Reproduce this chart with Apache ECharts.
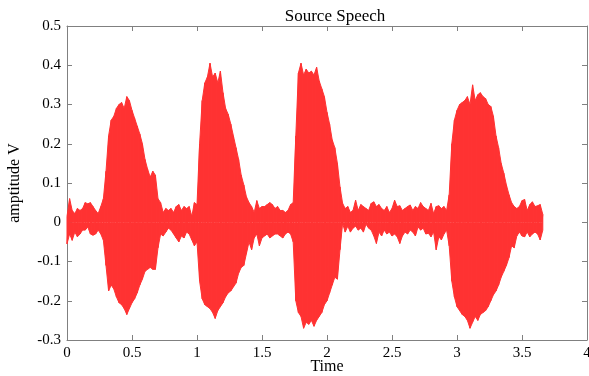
<!DOCTYPE html>
<html>
<head>
<meta charset="utf-8">
<script src="https://cdn.jsdelivr.net/npm/echarts@6/dist/echarts.min.js"></script>
<style>
html,body{margin:0;padding:0;background:#fff;}
#chart{width:589px;height:376px;}
</style>
</head>
<body>
<div id="chart"></div>
<script>
// Time base of the envelope samples (seconds)
var timeStart = 0;
var timeStep = 0.02;

// Upper envelope of the speech waveform (V), one value per sample step
var upperEnvelope = [
  // noise 0.00-0.28
  0.015, 0.06, 0.03, 0.022, 0.035, 0.03, 0.035, 0.05, 0.047, 0.05, 0.04, 0.03, 0.022, 0.04, 0.06,
  // word 1 0.30-0.70
  0.13, 0.22, 0.26, 0.27, 0.29, 0.30, 0.305, 0.29, 0.32, 0.31, 0.285, 0.265, 0.245, 0.225, 0.2, 0.16, 0.135, 0.115, 0.13, 0.12, 0.06,
  // noise 0.72-1.00
  0.05, 0.025, 0.035, 0.03, 0.035, 0.025, 0.04, 0.045, 0.03, 0.04, 0.035, 0.04, 0.015, 0.05, 0.045,
  // word 2 1.02-1.40
  0.2, 0.31, 0.355, 0.37, 0.405, 0.37, 0.38, 0.355, 0.385, 0.33, 0.29, 0.275, 0.25, 0.22, 0.19, 0.16, 0.12, 0.095, 0.065, 0.05,
  // noise 1.42-1.72
  0.04, 0.025, 0.055, 0.035, 0.04, 0.04, 0.045, 0.05, 0.045, 0.035, 0.04, 0.03, 0.03, 0.025, 0.03, 0.045,
  // word 3 1.74-2.10
  0.05, 0.22, 0.38, 0.405, 0.375, 0.39, 0.38, 0.385, 0.375, 0.395, 0.36, 0.34, 0.32, 0.28, 0.25, 0.21, 0.19, 0.15, 0.09,
  // noise 2.12-2.92
  0.048, 0.035, 0.04, 0.025, 0.03, 0.056, 0.03, 0.045, 0.04, 0.035, 0.03, 0.048, 0.052, 0.04, 0.045, 0.035, 0.03, 0.04, 0.025, 0.035,
  0.056, 0.04, 0.042, 0.03, 0.035, 0.04, 0.044, 0.03, 0.04, 0.035, 0.05, 0.04, 0.035, 0.03, 0.048, 0.022, 0.04, 0.042, 0.035, 0.04, 0.03,
  // word 4 2.94-3.42
  0.07, 0.2, 0.26, 0.285, 0.3, 0.305, 0.31, 0.32, 0.3, 0.35, 0.31, 0.325, 0.33, 0.32, 0.315, 0.3, 0.295, 0.27, 0.22, 0.19, 0.15, 0.125, 0.095, 0.07, 0.05,
  // noise 3.44-3.66
  0.04, 0.035, 0.04, 0.055, 0.058, 0.03, 0.045, 0.052, 0.04, 0.042, 0.045, 0.02
];

// Lower envelope of the speech waveform (V), same sample steps
var lowerEnvelope = [
  // noise 0.00-0.28
  -0.055, -0.03, -0.046, -0.025, -0.037, -0.03, -0.02, -0.02, -0.012, -0.03, -0.033, -0.03, -0.02, -0.03, -0.046,
  // word 1 0.30-0.70
  -0.11, -0.175, -0.16, -0.17, -0.19, -0.205, -0.21, -0.22, -0.235, -0.22, -0.205, -0.195, -0.18, -0.16, -0.145, -0.125, -0.12, -0.115, -0.12, -0.12, -0.065,
  // noise 0.72-1.00
  -0.03, -0.035, -0.025, -0.015, -0.02, -0.03, -0.04, -0.05, -0.035, -0.04, -0.025, -0.03, -0.045, -0.06, -0.05,
  // word 2 1.02-1.40
  -0.15, -0.195, -0.21, -0.215, -0.22, -0.23, -0.245, -0.225, -0.215, -0.205, -0.19, -0.18, -0.175, -0.165, -0.155, -0.13, -0.115, -0.11, -0.08, -0.05,
  // noise 1.42-1.72
  -0.07, -0.04, -0.03, -0.06, -0.04, -0.035, -0.03, -0.04, -0.035, -0.03, -0.03, -0.035, -0.04, -0.03, -0.025, -0.03,
  // word 3 1.74-2.10
  -0.05, -0.2, -0.23, -0.24, -0.27, -0.255, -0.26, -0.25, -0.265, -0.25, -0.24, -0.23, -0.21, -0.2, -0.18, -0.16, -0.14, -0.145, -0.07,
  // noise 2.12-2.92
  -0.003, -0.025, -0.01, -0.025, -0.015, -0.01, -0.02, -0.015, -0.025, -0.005, -0.015, -0.02, -0.035, -0.054, -0.025, -0.035, -0.02, -0.03, -0.025, -0.035,
  -0.03, -0.037, -0.054, -0.035, -0.025, -0.03, -0.02, -0.025, -0.035, -0.012, -0.02, -0.015, -0.03, -0.028, -0.037, -0.025, -0.07, -0.037, -0.045, -0.03, -0.02,
  // word 4 2.94-3.42
  -0.06, -0.15, -0.19, -0.215, -0.225, -0.235, -0.24, -0.25, -0.27, -0.255, -0.24, -0.25, -0.235, -0.23, -0.225, -0.215, -0.2, -0.185, -0.175, -0.16, -0.14, -0.125, -0.11, -0.09, -0.06,
  // noise 3.44-3.66
  -0.065, -0.035, -0.025, -0.035, -0.037, -0.025, -0.037, -0.03, -0.025, -0.03, -0.045, -0.02
];

// Axis ticks
var xTicks = { min: 0, max: 4, interval: 0.5 };
var yTicks = { min: -0.3, max: 0.5, interval: 0.1 };

var red = '#ff3333';

// Build the traces from the read envelopes
var times = upperEnvelope.map(function (_, i) { return +(timeStart + i * timeStep).toFixed(4); });
var upperPts = times.map(function (t, i) { return [t, upperEnvelope[i]]; });
var lowerPts = times.map(function (t, i) { return [t, lowerEnvelope[i]]; });
var trace = [];
for (var i = 0; i < times.length; i++) {
  trace.push([times[i], upperEnvelope[i]]);
  trace.push([times[i], lowerEnvelope[i]]);
}

var serif = 'Liberation Serif, Times New Roman, serif';
var frameColor = '#808080';

function axisCommon(showLabels) {
  return {
    axisLine: { show: true, onZero: false, lineStyle: { color: frameColor, width: 1 } },
    axisTick: { show: true, inside: true, length: 5, lineStyle: { color: frameColor } },
    splitLine: { show: false },
    axisLabel: showLabels ? {
      show: true, color: '#000', fontFamily: serif, fontSize: 15, margin: 6,
      formatter: function (v) { return String(Math.round(v * 10) / 10); }
    } : { show: false }
  };
}

var chart = echarts.init(document.getElementById('chart'), null, { renderer: 'canvas' });

var xBottom = Object.assign(axisCommon(true), {
  type: 'value', position: 'bottom', min: xTicks.min, max: xTicks.max, interval: xTicks.interval,
  name: 'Time', nameLocation: 'middle', nameGap: 19, nameMoveOverlap: false,
  nameTextStyle: { color: '#000', fontFamily: serif, fontSize: 16 }
});
var xTop = Object.assign(axisCommon(false), {
  type: 'value', position: 'top', min: xTicks.min, max: xTicks.max, interval: xTicks.interval
});
var yLeft = Object.assign(axisCommon(true), {
  type: 'value', position: 'left', min: yTicks.min, max: yTicks.max, interval: yTicks.interval,
  name: 'amptitude V', nameLocation: 'middle', nameGap: 44, nameRotate: 90, nameMoveOverlap: false,
  nameTextStyle: { color: '#000', fontFamily: serif, fontSize: 16 }
});
var yRight = Object.assign(axisCommon(false), {
  type: 'value', position: 'right', min: yTicks.min, max: yTicks.max, interval: yTicks.interval
});

function envSeries(pts) {
  return {
    type: 'line', xAxisIndex: 0, yAxisIndex: 0, data: pts,
    showSymbol: false, symbol: 'none', sampling: null,
    lineStyle: { color: red, width: 1 },
    areaStyle: { color: red, opacity: 1, origin: 0 },
    itemStyle: { color: red }, z: 1
  };
}

chart.setOption({
  animation: false,
  backgroundColor: '#ffffff',
  title: {
    text: 'Source Speech', left: 330, top: 3, textAlign: 'center',
    textStyle: { color: '#000', fontFamily: serif, fontSize: 17, fontWeight: 'normal' }
  },
  grid: { left: 67, right: 2, top: 26, bottom: 36, containLabel: false, outerBoundsMode: 'none' },
  xAxis: [xBottom, xTop],
  yAxis: [yLeft, yRight],
  series: [
    envSeries(upperPts),
    envSeries(lowerPts),
    {
      type: 'line', xAxisIndex: 0, yAxisIndex: 0, data: trace,
      showSymbol: false, symbol: 'none', sampling: null,
      lineStyle: { color: red, width: 1 },
      itemStyle: { color: red }, z: 2
    }
  ]
});
</script>
</body>
</html>
